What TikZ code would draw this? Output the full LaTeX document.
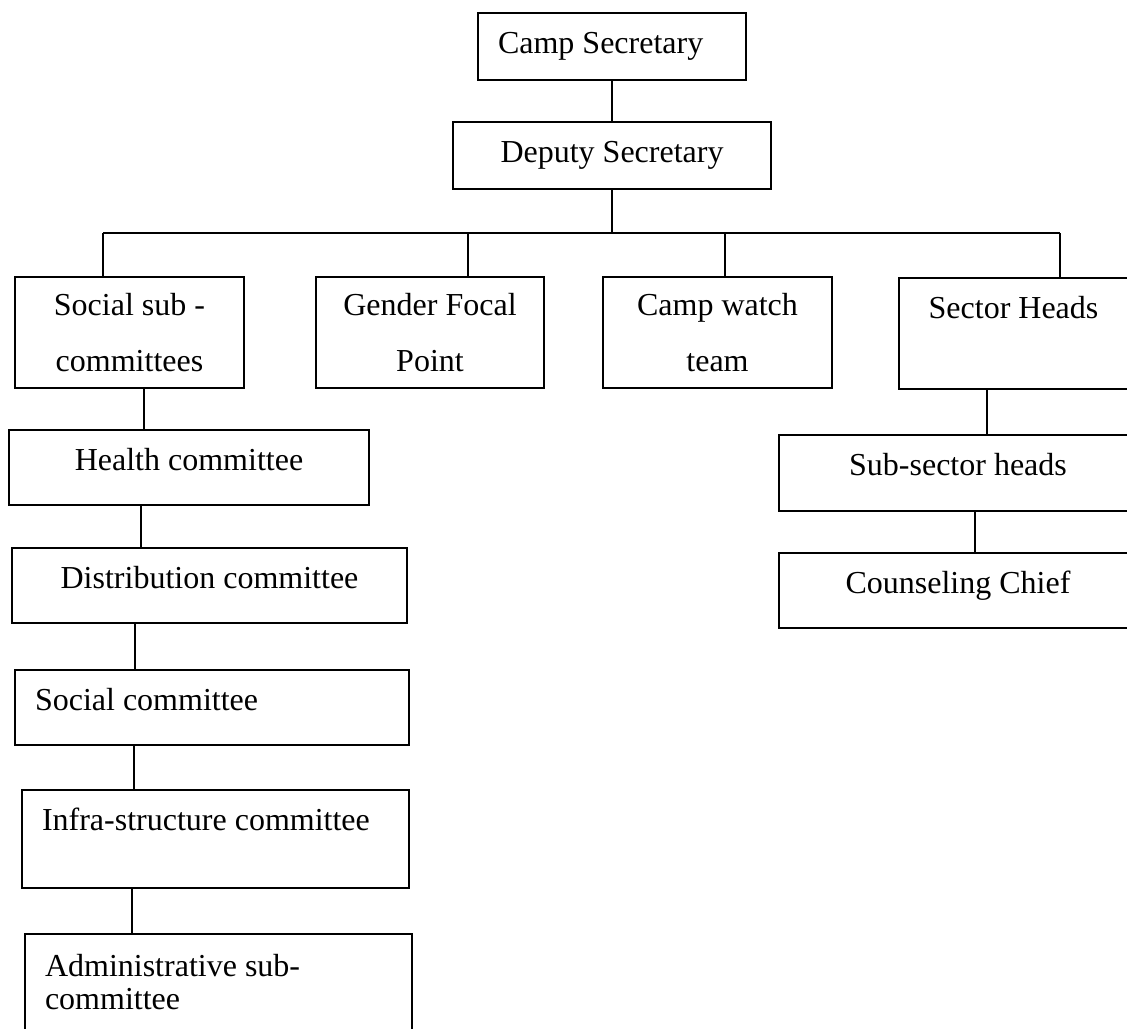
\documentclass[tikz,border=0pt]{standalone}
\usepackage{fontspec}
\setmainfont{Liberation Serif}
\usepackage{tikz}
\tikzstyle{unit}=[draw, line width=1.1pt, inner sep=0pt, outer sep=0pt, font=\fontsize{16}{19}\selectfont]
\tikzstyle{unitone}=[unit, text height=20pt, align=center]
\tikzstyle{unitleft}=[unit, text height=20pt, inner xsep=10pt, align=flush left]
\tikzstyle{unittwo}=[unit, align=center, minimum height=55.5pt, font=\fontsize{16}{28}\selectfont]
\tikzstyle{unitlefttwo}=[unit, inner xsep=10pt, align=flush left, font=\fontsize{16}{16.5}\selectfont]
\tikzstyle{link}=[draw=black, line width=1pt]

\begin{document}
\begin{tikzpicture}[x=0.5pt, y=-0.5pt]
		   \useasboundingbox (0,0) rectangle (1127,1028);
		   \clip (0,0) rectangle (1127,1028);
		   \begin{scope}
			   \node (cs) at (612, 46.5)[unitleft, text width=114pt, text depth=13.5pt] {Camp Secretary};
			   \node (ds) at (612, 155.5)[unitone, minimum width=159pt, text depth=13.5pt] {Deputy Secretary};
			   \node (soc) at (129.5, 332.5)[unittwo, minimum width=114.5pt] {Social sub -\\committees};
			   \node (gfp) at (430, 332.5)[unittwo, minimum width=114pt] {Gender Focal\\Point};
			   \node (cwt) at (717.5, 332.5)[unittwo, minimum width=114.5pt] {Camp watch\\team};
			   \node (sh) at (1013.5, 333.5)[unitone, minimum width=114.5pt, text depth=35.5pt] {Sector Heads};
			   \node (hc) at (189, 467.5)[unitone, minimum width=180pt, text depth=17.5pt] {Health committee};
			   \node (dc) at (209.5, 585.5)[unitone, minimum width=197.5pt, text depth=17.5pt] {Distribution committee};
			   \node (sc) at (212, 707.5)[unitleft, text width=177pt, text depth=17.5pt] {Social committee};
			   \node (ic) at (215.5, 839)[unitleft, text width=173.5pt, text depth=29pt] {Infra-structure committee};
			   \node (ac) at (218.5, 982)[unitlefttwo, text width=173.5pt, minimum height=48pt] {Administrative sub-\\committee};
			   \node (ssh) at (958, 473)[unitone, minimum width=179pt, text depth=18pt] {Sub-sector heads};
			   \node (cc) at (958, 590.5)[unitone, minimum width=179pt, text depth=17.5pt] {Counseling Chief};
		   \end{scope}
		   % bus and drop points
		   \coordinate (d1) at (103, 233);
		   \coordinate (d2) at (468, 233);
		   \coordinate (d3) at (725, 233);
		   \coordinate (d4) at (1060, 233);
		   \coordinate (l1) at (144, 0);
		   \coordinate (l2) at (141, 0);
		   \coordinate (l3) at (135, 0);
		   \coordinate (l4) at (134, 0);
		   \coordinate (l5) at (132, 0);
		   \coordinate (r1) at (987, 0);
		   \coordinate (r2) at (975, 0);
		   \begin{scope}
			   \path [link] (cs) edge (ds);
			   \path [link] (ds.south) edge (ds.south |- d1);
			   \path [link] (d1) edge (d4);
			   \path [link] (d1) edge (d1 |- soc.north);
			   \path [link] (d2) edge (d2 |- gfp.north);
			   \path [link] (d3) edge (d3 |- cwt.north);
			   \path [link] (d4) edge (d4 |- sh.north);
			   \path [link] (soc.south -| l1) edge (hc.north -| l1);
			   \path [link] (hc.south -| l2) edge (dc.north -| l2);
			   \path [link] (dc.south -| l3) edge (sc.north -| l3);
			   \path [link] (sc.south -| l4) edge (ic.north -| l4);
			   \path [link] (ic.south -| l5) edge (ac.north -| l5);
			   \path [link] (sh.south -| r1) edge (ssh.north -| r1);
			   \path [link] (ssh.south -| r2) edge (cc.north -| r2);
		   \end{scope}
	   \end{tikzpicture}
\end{document}
